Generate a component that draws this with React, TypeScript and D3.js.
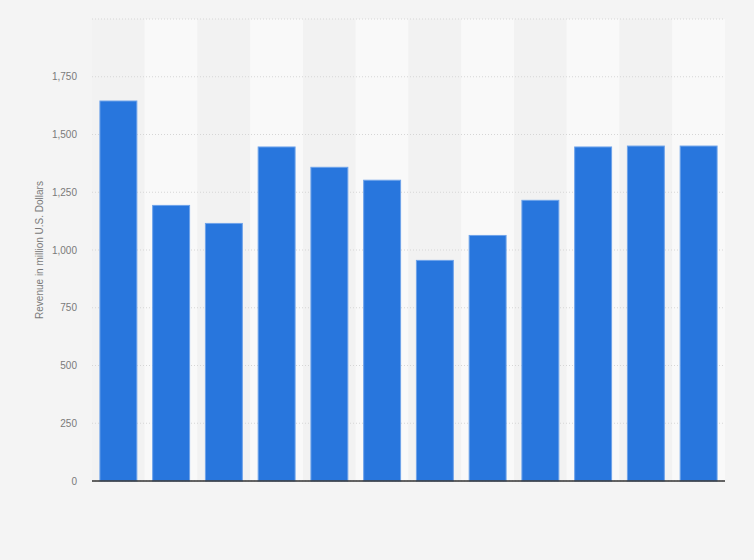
import React from "react";
import * as d3 from "d3";

const categories = ["1", "2", "3", "4", "5", "6", "7", "8", "9", "10", "11", "12"];
const revenue = [1645, 1193, 1115, 1446, 1358, 1302, 955, 1063, 1215, 1446, 1450, 1450];
const yTicks = [0, 250, 500, 750, 1000, 1250, 1500, 1750];
const yMax = 2000;

const W = 754;
const H = 560;
const margin = { left: 92, right: 29, top: 19, bottom: 79 };

export default function App() {
  const x = d3
    .scaleBand<string>()
    .domain(categories)
    .range([margin.left, W - margin.right])
    .paddingInner(0.3)
    .paddingOuter(0.15);
  const y = d3.scaleLinear().domain([0, yMax]).range([H - margin.bottom, margin.top]);
  const step = x.step();
  const fmt = d3.format(",");
  const gridVals = [...yTicks, yMax];

  return (
    <svg
      width={W}
      height={H}
      style={{ position: "absolute", left: 0, top: 0, fontFamily: "'Liberation Sans', Arial, sans-serif" }}
    >
      <rect x={0} y={0} width={W} height={H} fill="#f4f4f4" />
      {categories.map((c, i) => (
        <rect
          key={"band" + c}
          x={margin.left + i * step}
          y={y(yMax)}
          width={step}
          height={y(0) - y(yMax)}
          fill={i % 2 === 0 ? "#f2f2f2" : "#f9f9f9"}
        />
      ))}
      {gridVals.map((v) => (
        <line
          key={"g" + v}
          x1={margin.left}
          x2={W - margin.right}
          y1={y(v)}
          y2={y(v)}
          stroke="#d6d6d6"
          strokeWidth={1}
          strokeDasharray="1,2"
        />
      ))}
      {yTicks.map((v) => (
        <text
          key={"t" + v}
          x={77}
          y={y(v)}
          dy="0.35em"
          textAnchor="end"
          fontSize={10}
          fill="#7a7a7a"
        >
          {fmt(v)}
        </text>
      ))}
      <text
        transform={`translate(43,${(y(0) + y(yMax)) / 2}) rotate(-90)`}
        textAnchor="middle"
        fontSize={10}
        fill="#7a7a7a"
      >
        Revenue in million U.S. Dollars
      </text>
      {categories.map((c, i) => (
        <rect
          key={"bar" + c}
          x={x(c)!}
          y={y(revenue[i])}
          width={x.bandwidth()}
          height={y(0) - y(revenue[i])}
          fill="#2876dd"
          stroke="#6ea3ea"
          strokeWidth={1}
        />
      ))}
      <line
        x1={margin.left}
        x2={W - margin.right}
        y1={y(0)}
        y2={y(0)}
        stroke="#333"
        strokeWidth={1.5}
      />
    </svg>
  );
}
